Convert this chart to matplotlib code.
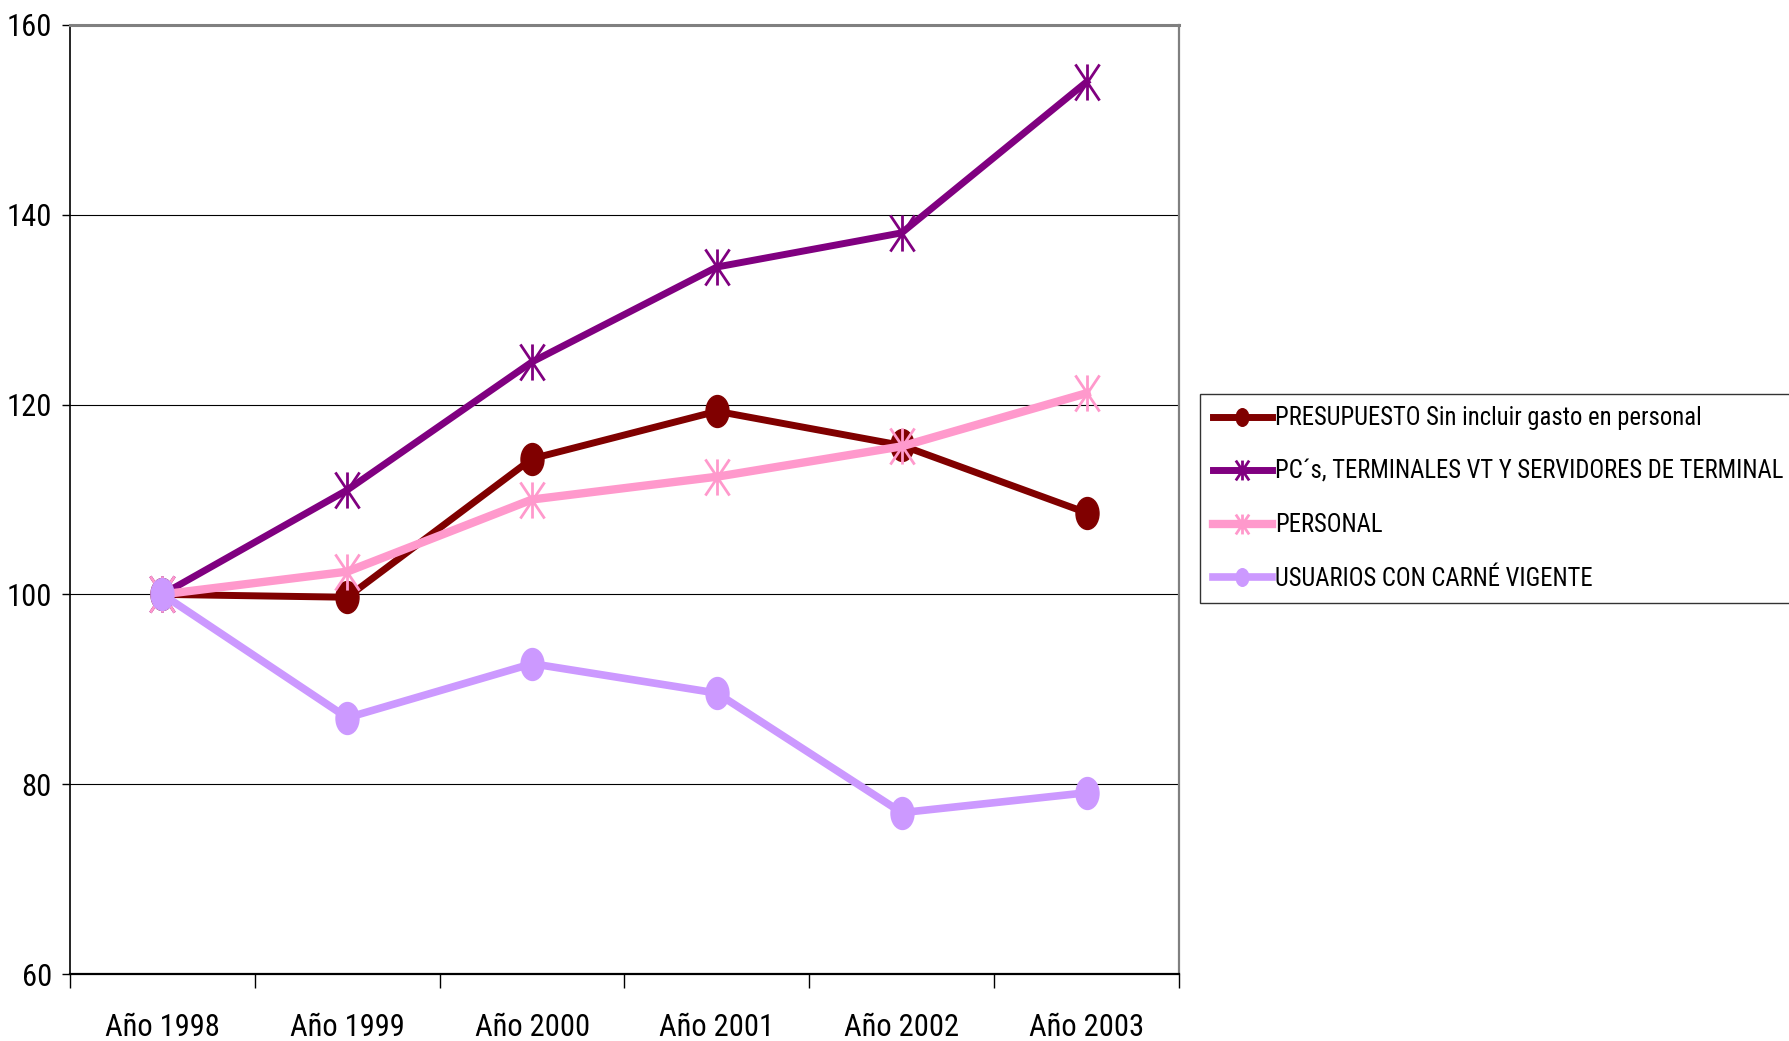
import matplotlib
matplotlib.use("Agg")
import matplotlib.pyplot as plt
import numpy as np
from matplotlib.path import Path
from matplotlib import font_manager as fm

# ---- data ----
categories = ["Año 1998", "Año 1999", "Año 2000", "Año 2001", "Año 2002", "Año 2003"]
presupuesto = [100.0, 99.7, 114.3, 119.3, 115.7, 108.6]
pcs = [100.0, 111.0, 124.5, 134.5, 138.1, 154.0]
personal = [100.0, 102.4, 110.0, 112.4, 115.6, 121.2]
usuarios = [100.0, 87.0, 92.7, 89.6, 77.0, 79.1]
series_labels = [
    "PRESUPUESTO Sin incluir gasto en personal",
    "PC´s, TERMINALES VT Y SERVIDORES DE TERMINAL",
    "PERSONAL",
    "USUARIOS CON CARNÉ VIGENTE",
]
y_ticks = [60, 80, 100, 120, 140, 160]

# ---- font choice: prefer a condensed face ----
entries = fm.fontManager.ttflist
names = {f.name for f in entries}
stretch = "normal"
fam = None
for cand in ["Liberation Sans Narrow", "Roboto Condensed", "Open Sans Condensed",
             "Noto Sans Condensed", "DejaVu Sans Condensed"]:
    if cand in names:
        fam = cand
        break
if fam is None:
    for cand in ["DejaVu Sans", "Noto Sans", "Roboto", "Open Sans"]:
        if any(f.name == cand and str(f.stretch) in ("condensed", "semi-condensed", "extra-condensed", "75", "87")
               for f in entries):
            fam = cand
            stretch = "condensed"
            break
if fam is None:
    fam = "Liberation Sans"
plt.rcParams["font.family"] = [fam, "DejaVu Sans"]
plt.rcParams["font.stretch"] = stretch

# ---- markers ----
circ = Path.unit_circle()
ellipse = Path(circ.vertices * np.array([0.72, 1.0]), circ.codes)
ast_verts = [(0, -1), (0, 1), (-0.67, -1), (0.67, 1), (-0.67, 1), (0.67, -1)]
ast_codes = [Path.MOVETO, Path.LINETO] * 3
asterisk = Path(ast_verts, ast_codes)

fig = plt.figure(figsize=(17.89, 10.41), dpi=100)
ax = fig.add_axes([70 / 1789, 1 - 974 / 1041, (1179 - 70) / 1789, (974 - 25) / 1041])

x = np.arange(len(categories))
c_pres, c_pc, c_pers, c_usu = "#800000", "#800080", "#FF99CC", "#CC99FF"

ax.plot(x, presupuesto, color=c_pres, lw=5, marker=ellipse, ms=23,
        mfc=c_pres, mec=c_pres, label=series_labels[0], zorder=3)
ax.plot(x, pcs, color=c_pc, lw=5, marker=asterisk, ms=26, mfc="none",
        mec=c_pc, mew=2, label=series_labels[1], zorder=4)
ax.plot(x, personal, color=c_pers, lw=6, marker=asterisk, ms=26, mfc="none",
        mec=c_pers, mew=2, label=series_labels[2], zorder=5)
ax.plot(x, usuarios, color=c_usu, lw=5.5, marker=ellipse, ms=23,
        mfc=c_usu, mec=c_usu, label=series_labels[3], zorder=6)

# measure text width to fit the condensed look of the original
renderer = fig.canvas.get_renderer()
def width_px(s, size):
    t = fig.text(0, 0, s, fontsize=size)
    w = t.get_window_extent(renderer).width
    t.remove()
    return w

leg_size = 20.0
w = width_px(series_labels[1], leg_size)
if w > 510:
    leg_size = leg_size * 510 / w
tick_size = 22.0
w = width_px(categories[0], tick_size)
if w > 115:
    tick_size = max(tick_size * 115 / w, 17.5)

ax.set_xlim(-0.5, len(categories) - 0.5)
ax.set_ylim(60, 160)
ax.set_yticks(y_ticks)
ax.set_yticklabels([str(v) for v in y_ticks])
ax.yaxis.grid(True, color="black", lw=0.8)
ax.set_axisbelow(True)

ax.set_xticks(np.arange(-0.5, len(categories)), minor=False)
ax.set_xticklabels([""] * (len(categories) + 1))
ax.set_xticks(x, minor=True)
ax.set_xticklabels(categories, minor=True)
ax.tick_params(axis="x", which="major", direction="out", length=10, width=1, color="black")
ax.tick_params(axis="x", which="minor", length=0, pad=28, labelsize=tick_size)
ax.tick_params(axis="y", direction="out", length=6, width=1, pad=7, labelsize=tick_size)

for s in ["left", "bottom"]:
    ax.spines[s].set_color("black")
ax.spines["left"].set_linewidth(1.2)
ax.spines["bottom"].set_linewidth(1.6)
ax.spines["top"].set_color("#808080")
ax.spines["top"].set_linewidth(2.2)
ax.spines["right"].set_color("#808080")
ax.spines["right"].set_linewidth(1.6)

leg_px = leg_size * 100 / 72
leg = fig.legend(loc="upper left", bbox_to_anchor=(1200 / 1789, 1 - 394 / 1041),
                 bbox_transform=fig.transFigure, fontsize=leg_size, frameon=True,
                 fancybox=False, edgecolor="black", borderaxespad=0,
                 handlelength=59 / leg_px, handletextpad=0.15,
                 labelspacing=0.75 * 20 / leg_size + 8.5 / leg_px,
                 borderpad=0.45 * 20 / leg_size, markerscale=0.55)
leg.get_frame().set_linewidth(1.0)

fig.savefig("out.png", dpi=100)
